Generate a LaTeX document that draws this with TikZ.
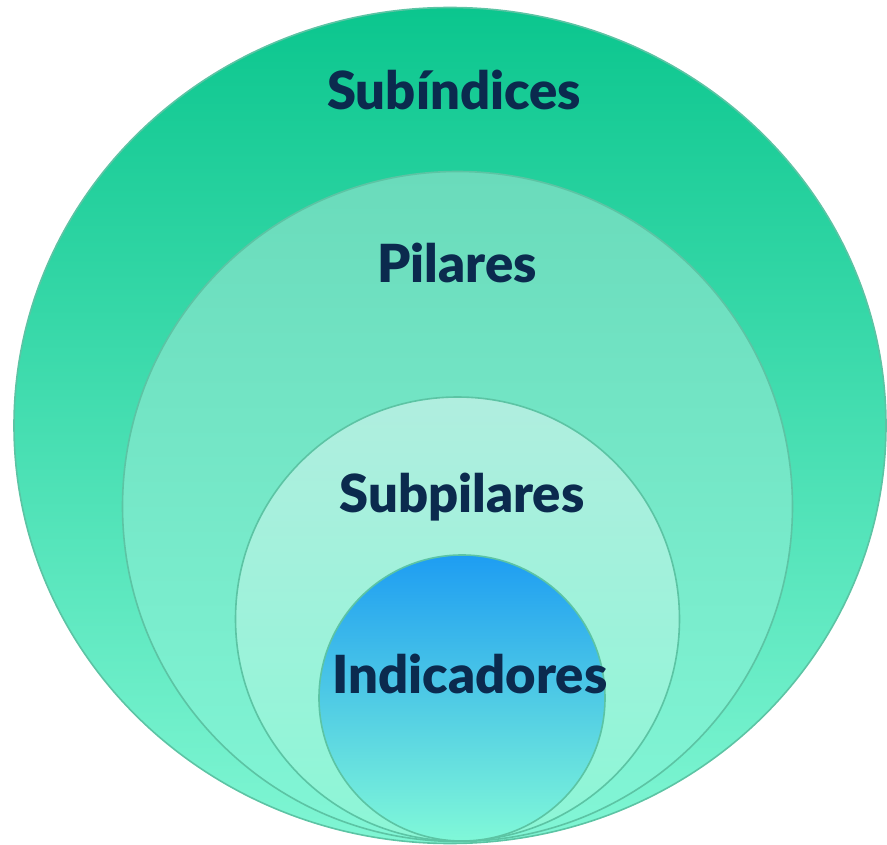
\documentclass[tikz,border=0pt]{standalone}
\usepackage{fontspec}
\setmainfont{Lato}
\newfontfamily\ringfont{Lato Black}
\usepackage{tikz}

\definecolor{ringline}{HTML}{5CC4A4}
\definecolor{labeltext}{HTML}{0B2A4E}

\begin{document}
\begin{tikzpicture}[x=1pt, y=-1pt,
  ring/.style={draw=ringline, line width=1.6pt},
  ringlabel/.style={anchor=base, text=labeltext, font=\ringfont\fontsize{52.5}{55}\selectfont, inner sep=0pt}]

\useasboundingbox (0,0) rectangle (887,845);

%%%%%%%%%%%%%%%%%%%%%%%%%%%%%%%
\draw[ring, top color={rgb,255:red,11;green,198;blue,142}, bottom color={rgb,255:red,128;green,246;blue,212}]
(450,425.5) ellipse (436 and 418);

\draw[ring, top color={rgb,255:red,106;green,219;blue,187}, bottom color={rgb,255:red,130;green,246;blue,214}]
(457.5,506.5) circle (335);

\draw[ring, top color={rgb,255:red,176;green,238;blue,223}, bottom color={rgb,255:red,140;green,246;blue,214}]
(457.5,619) circle (222);

\draw[ring, top color={rgb,255:red,30;green,157;blue,242}, bottom color={rgb,255:red,128;green,248;blue,216}]
(462,698) circle (143);

%%%%%%%%%%%%%%%%%%%%%%%%%%%%%%%
\node[ringlabel] (subindices) at (454,110) {Subíndices};
\node[ringlabel] (pilares) at (457,283) {Pilares};
\node[ringlabel] (subpilares) at (462,512) {Subpilares};
\node[ringlabel] (indicadores) at (470,693) {Indicadores};

\end{tikzpicture}
\end{document}
